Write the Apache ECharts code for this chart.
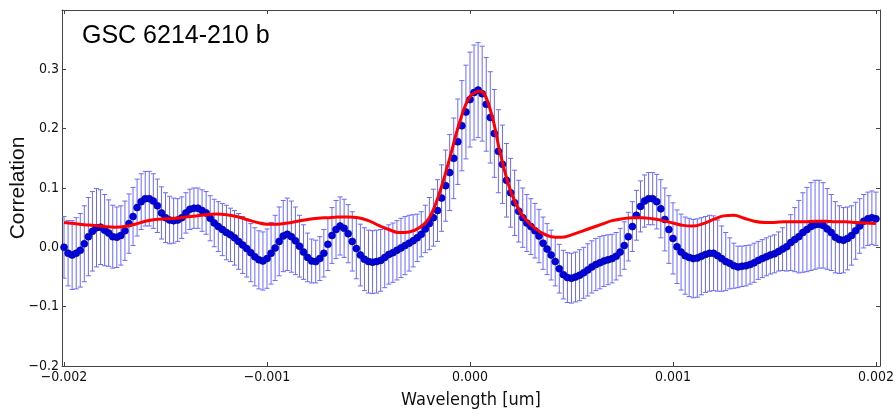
<!DOCTYPE html>
<html><head><meta charset="utf-8">
<script src="https://cdn.jsdelivr.net/npm/echarts@6/dist/echarts.min.js"></script>
<style>html,body{margin:0;padding:0;background:#fff}#c{width:896px;height:417px}</style>
</head><body><div id="c"></div>
<script>
// sampling grid of the cross-correlation (wavelength offset)
const xStart = -0.002, xStep = 0.00002;
const corrValues = [
 0.000,-0.010,-0.013,-0.010,-0.005,0.006,0.018,0.027,0.033,0.034,
 0.029,0.024,0.018,0.017,0.020,0.028,0.040,0.052,0.067,0.077,
 0.082,0.082,0.078,0.070,0.058,0.050,0.046,0.045,0.046,0.050,
 0.058,0.064,0.066,0.066,0.062,0.058,0.049,0.041,0.035,0.030,
 0.025,0.021,0.016,0.010,0.004,-0.002,-0.009,-0.016,-0.021,-0.023,
 -0.019,-0.010,-0.001,0.010,0.019,0.022,0.018,0.011,0.002,-0.008,
 -0.017,-0.023,-0.024,-0.019,-0.010,0.005,0.020,0.030,0.036,0.032,
 0.023,0.010,-0.002,-0.013,-0.020,-0.024,-0.025,-0.024,-0.022,-0.017,
 -0.012,-0.009,-0.005,-0.001,0.003,0.007,0.011,0.016,0.022,0.031,
 0.040,0.050,0.062,0.083,0.104,0.126,0.150,0.178,0.205,0.228,
 0.249,0.261,0.265,0.259,0.241,0.219,0.192,0.162,0.140,0.113,
 0.092,0.075,0.061,0.050,0.041,0.035,0.028,0.019,0.007,-0.003,
 -0.013,-0.024,-0.036,-0.046,-0.051,-0.052,-0.050,-0.047,-0.043,-0.038,
 -0.033,-0.029,-0.026,-0.023,-0.021,-0.019,-0.015,-0.008,0.003,0.018,
 0.035,0.054,0.069,0.078,0.082,0.082,0.077,0.065,0.047,0.030,
 0.015,0.001,-0.008,-0.014,-0.017,-0.019,-0.018,-0.015,-0.012,-0.010,
 -0.010,-0.014,-0.019,-0.024,-0.027,-0.031,-0.033,-0.032,-0.031,-0.029,
 -0.026,-0.022,-0.019,-0.016,-0.013,-0.011,-0.007,-0.003,0.001,0.008,
 0.013,0.018,0.025,0.030,0.035,0.038,0.039,0.037,0.031,0.025,
 0.017,0.013,0.012,0.015,0.020,0.028,0.036,0.044,0.048,0.050,
 0.048
];
const corrErrors = [
 0.052,0.055,0.058,0.060,0.062,0.064,0.066,0.067,0.066,0.063,
 0.060,0.056,0.053,0.051,0.050,0.050,0.050,0.049,0.048,0.047,
 0.046,0.046,0.046,0.045,0.044,0.042,0.040,0.038,0.036,0.035,
 0.034,0.034,0.034,0.034,0.035,0.036,0.038,0.040,0.042,0.044,
 0.046,0.045,0.046,0.047,0.048,0.048,0.049,0.049,0.049,0.049,
 0.050,0.052,0.055,0.058,0.060,0.061,0.060,0.057,0.052,0.046,
 0.041,0.037,0.036,0.037,0.040,0.044,0.047,0.049,0.049,0.049,
 0.049,0.050,0.051,0.052,0.053,0.053,0.053,0.053,0.052,0.051,
 0.050,0.050,0.050,0.050,0.049,0.047,0.044,0.040,0.038,0.040,
 0.044,0.048,0.052,0.056,0.060,0.064,0.068,0.072,0.076,0.079,
 0.080,0.080,0.080,0.080,0.079,0.077,0.074,0.070,0.066,0.062,
 0.058,0.055,0.052,0.050,0.048,0.047,0.046,0.045,0.044,0.043,
 0.042,0.041,0.041,0.041,0.042,0.042,0.042,0.043,0.043,0.044,
 0.044,0.044,0.044,0.043,0.042,0.041,0.040,0.040,0.040,0.041,
 0.042,0.042,0.043,0.044,0.044,0.044,0.046,0.049,0.053,0.057,
 0.060,0.062,0.064,0.065,0.066,0.066,0.066,0.065,0.064,0.064,
 0.063,0.060,0.055,0.049,0.043,0.038,0.035,0.034,0.034,0.033,
 0.033,0.032,0.032,0.032,0.032,0.032,0.033,0.036,0.041,0.047,
 0.054,0.061,0.067,0.071,0.074,0.075,0.074,0.072,0.068,0.064,
 0.060,0.057,0.055,0.053,0.050,0.048,0.046,0.045,0.045,0.045,
 0.045
];
// model (red) curve sampled on a coarser grid
const modelStart = -0.002, modelStep = 0.00005;
const modelValues = [
 0.042,0.040,0.038,0.037,0.035,0.034,0.035,0.039,0.044,0.047,
 0.048,0.049,0.051,0.053,0.055,0.056,0.055,0.052,0.047,0.042,
 0.039,0.039,0.041,0.044,0.047,0.049,0.050,0.051,0.051,0.050,
 0.045,0.037,0.030,0.025,0.026,0.033,0.050,0.092,0.150,0.212,
 0.254,0.263,0.232,0.157,0.095,0.058,0.038,0.025,0.018,0.017,
 0.021,0.027,0.033,0.039,0.045,0.048,0.050,0.050,0.048,0.045,
 0.041,0.037,0.036,0.040,0.047,0.053,0.054,0.049,0.044,0.042,
 0.042,0.043,0.043,0.043,0.044,0.044,0.043,0.043,0.042,0.041,
 0.040
];
const xTicks = [-0.002, -0.001, 0, 0.001, 0.002];
const yTicks = [-0.2, -0.1, 0, 0.1, 0.2, 0.3];
const yTickMarks = [-0.2, -0.1, 0, 0.1, 0.2, 0.3, 0.4];

const pts = corrValues.map((v, i) => [xStart + i * xStep, v]);
const errs = corrValues.map((v, i) => [xStart + i * xStep, v, corrErrors[i]]);
const model = modelValues.map((v, i) => [modelStart + i * modelStep, v]);

const tickFont = "'DejaVu Sans Condensed','DejaVu Sans',sans-serif";
const minus = s => s.replace('-', '\u2212');
const frameColor = '#444';

const chart = echarts.init(document.getElementById('c'), null, {renderer: 'canvas'});
chart.setOption({
  animation: false,
  backgroundColor: '#fff',
  grid: {left: 62, top: 10, width: 818, height: 356, containLabel: false, outerBoundsMode: 'none'},
  xAxis: [{
    type: 'value', min: -0.00201, max: 0.00202, position: 'bottom',
    axisLine: {show: true, onZero: false, lineStyle: {color: frameColor, width: 1}},
    axisTick: {show: true, inside: true, length: 4, customValues: xTicks, lineStyle: {color: frameColor}},
    axisLabel: {show: true, customValues: xTicks, margin: 4, color: '#111', fontSize: 14, fontFamily: tickFont,
      formatter: v => minus(Number(v).toFixed(3))},
    splitLine: {show: false},
    name: 'Wavelength [um]', nameLocation: 'middle', nameGap: 25, nameMoveOverlap: false,
    nameTextStyle: {fontSize: 18, color: '#111', fontFamily: tickFont}
  }, {
    type: 'value', min: -0.00201, max: 0.00202, position: 'top',
    axisLine: {show: true, onZero: false, lineStyle: {color: frameColor, width: 1}},
    axisTick: {show: true, inside: true, length: 4, customValues: xTicks, lineStyle: {color: frameColor}},
    axisLabel: {show: false}, splitLine: {show: false}
  }],
  yAxis: [{
    type: 'value', min: -0.2, max: 0.4, interval: 0.1, position: 'left',
    axisLine: {show: true, onZero: false, lineStyle: {color: frameColor, width: 1}},
    axisTick: {show: true, inside: true, length: 4, customValues: yTickMarks, lineStyle: {color: frameColor}},
    axisLabel: {show: true, customValues: yTicks, margin: 3, color: '#111', fontSize: 14, fontFamily: tickFont,
      formatter: v => minus(Number(v).toFixed(1))},
    splitLine: {show: false},
    name: 'Correlation', nameLocation: 'middle', nameGap: 33, nameRotate: 90, nameMoveOverlap: false,
    nameTextStyle: {fontSize: 21, color: '#111', fontFamily: "'Liberation Sans',Arial,sans-serif"}
  }, {
    type: 'value', min: -0.2, max: 0.4, interval: 0.1, position: 'right',
    axisLine: {show: true, onZero: false, lineStyle: {color: frameColor, width: 1}},
    axisTick: {show: true, inside: true, length: 4, customValues: yTickMarks, lineStyle: {color: frameColor}},
    axisLabel: {show: false}, splitLine: {show: false}
  }],
  graphic: [{
    type: 'text', left: 82, top: 24, z: 100,
    style: {text: 'GSC 6214-210 b', font: "25px 'Liberation Sans', Arial, sans-serif", fill: '#000'}
  }],
  series: [{
    type: 'custom', name: 'err', xAxisIndex: 0, yAxisIndex: 0, z: 2, clip: true,
    data: errs, encode: {x: 0, y: 1},
    renderItem: function (params, api) {
      const x = api.value(0), y = api.value(1), e = api.value(2);
      const top = api.coord([x, y + e]);
      const bot = api.coord([x, y - e]);
      const hw = 2.5;
      const st = {stroke: '#6a6aff', lineWidth: 1};
      return {type: 'group', children: [
        {type: 'line', shape: {x1: top[0], y1: top[1], x2: bot[0], y2: bot[1]}, style: st},
        {type: 'line', shape: {x1: top[0] - hw, y1: top[1], x2: top[0] + hw, y2: top[1]}, style: st},
        {type: 'line', shape: {x1: bot[0] - hw, y1: bot[1], x2: bot[0] + hw, y2: bot[1]}, style: st}
      ]};
    }
  }, {
    type: 'scatter', name: 'corr', z: 3, data: pts, symbol: 'circle', symbolSize: 7,
    itemStyle: {color: '#0000e6', borderColor: '#00006a', borderWidth: 0.6, opacity: 1}
  }, {
    type: 'line', name: 'model', z: 4, data: model, smooth: 0.4, showSymbol: false, symbol: 'none',
    lineStyle: {color: '#ff0000', width: 3}
  }]
});
</script></body></html>
